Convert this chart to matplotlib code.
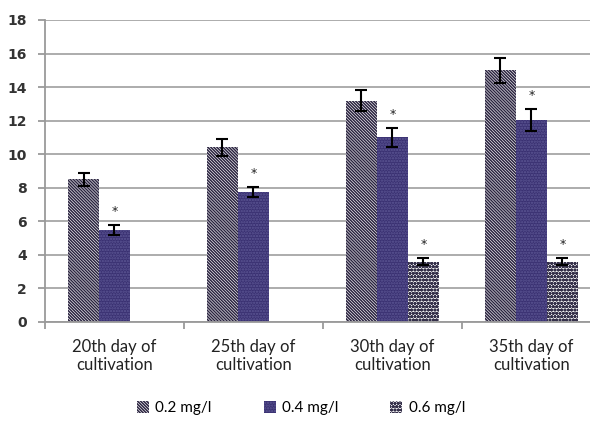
import numpy as np
import matplotlib.pyplot as plt
from matplotlib.patches import Patch

# categories and series
days = ['20th day of\ncultivation', '25th day of\ncultivation',
        '30th day of\ncultivation', '35th day of\ncultivation']
series = ['0.2 mg/l', '0.4 mg/l', '0.6 mg/l']

vals_02 = [8.5, 10.4, 13.2, 15.0]
vals_04 = [5.5, 7.75, 11.0, 12.05]
vals_06 = [np.nan, np.nan, 3.6, 3.6]

err_02 = [0.4, 0.5, 0.6, 0.75]
err_04 = [0.3, 0.3, 0.55, 0.65]
err_06 = [np.nan, np.nan, 0.2, 0.2]

# which bars carry an asterisk
star_04 = [True, True, True, True]
star_06 = [False, False, True, True]

plt.rcParams['hatch.linewidth'] = 1.1

fig = plt.figure(figsize=(5.9, 4.23), dpi=100)
ax = fig.add_axes([0.0763, 0.2388, 0.942, 0.714])

x = np.arange(len(days))
w = 0.223

styles = [
    dict(facecolor='white', edgecolor='#2b2440', hatch='\\' * 11),
    dict(facecolor='#3a3172', edgecolor='#5d5794', hatch='.' * 6),
    dict(facecolor='white', edgecolor='#35304a', hatch='o' * 5),
]

all_vals = [vals_02, vals_04, vals_06]
all_errs = [err_02, err_04, err_06]
for i, (v, e, st) in enumerate(zip(all_vals, all_errs, styles)):
    pos = x + (i - 1) * w
    ax.bar(pos, v, w, linewidth=0, zorder=2, **st)
    ax.errorbar(pos, v, yerr=e, fmt='none', ecolor='black',
                elinewidth=1.5, capsize=4, capthick=1.5, zorder=3)

for i, (v, e, stars) in [(1, (vals_04, err_04, star_04)), (2, (vals_06, err_06, star_06))]:
    for k in range(len(days)):
        if stars[k]:
            ax.annotate('*', (x[k] + (i - 1) * w, v[k] + e[k]),
                        xytext=(0, 5), textcoords='offset points',
                        ha='center', va='bottom', fontsize=9, color='#222')

ax.set_xlim(-0.5, 3.5)
ax.set_ylim(0, 18)
ax.set_yticks(np.arange(0, 19, 2))
ax.yaxis.grid(True, color='#a6a6a6', linewidth=1.3, zorder=0)
ax.set_axisbelow(True)

for s in ['top', 'right']:
    ax.spines[s].set_visible(False)
ax.spines['left'].set_color('#9a9a9a')
ax.spines['bottom'].set_color('#9a9a9a')
ax.spines['left'].set_linewidth(1.3)
ax.spines['bottom'].set_linewidth(1.3)

ax.set_xticks(np.arange(-0.5, 4, 1))
ax.set_xticklabels([])
ax.tick_params(axis='x', length=5, color='#9a9a9a', width=1.3)
ax.set_xticks(x, minor=True)
ax.set_xticklabels(days, minor=True, fontsize=12, family='Lato', color='#222')
ax.tick_params(axis='x', which='minor', length=0, pad=12)
ax.tick_params(axis='y', length=5, color='#9a9a9a', width=1.3, pad=8)
for t in ax.get_yticklabels():
    t.set_fontweight('bold')
    t.set_fontsize(10)
    t.set_color('#333')
    t.set_family('DejaVu Sans')

handles = [Patch(linewidth=0, **st) for st in styles]
fig.legend(handles, series, loc='center', bbox_to_anchor=(0.51, 0.035), ncol=3,
           frameon=False, handlelength=0.8, handleheight=0.8, handletextpad=0.4,
           columnspacing=3.4, prop={'family': 'Lato', 'size': 11})

fig.savefig('out.png', dpi=100)
